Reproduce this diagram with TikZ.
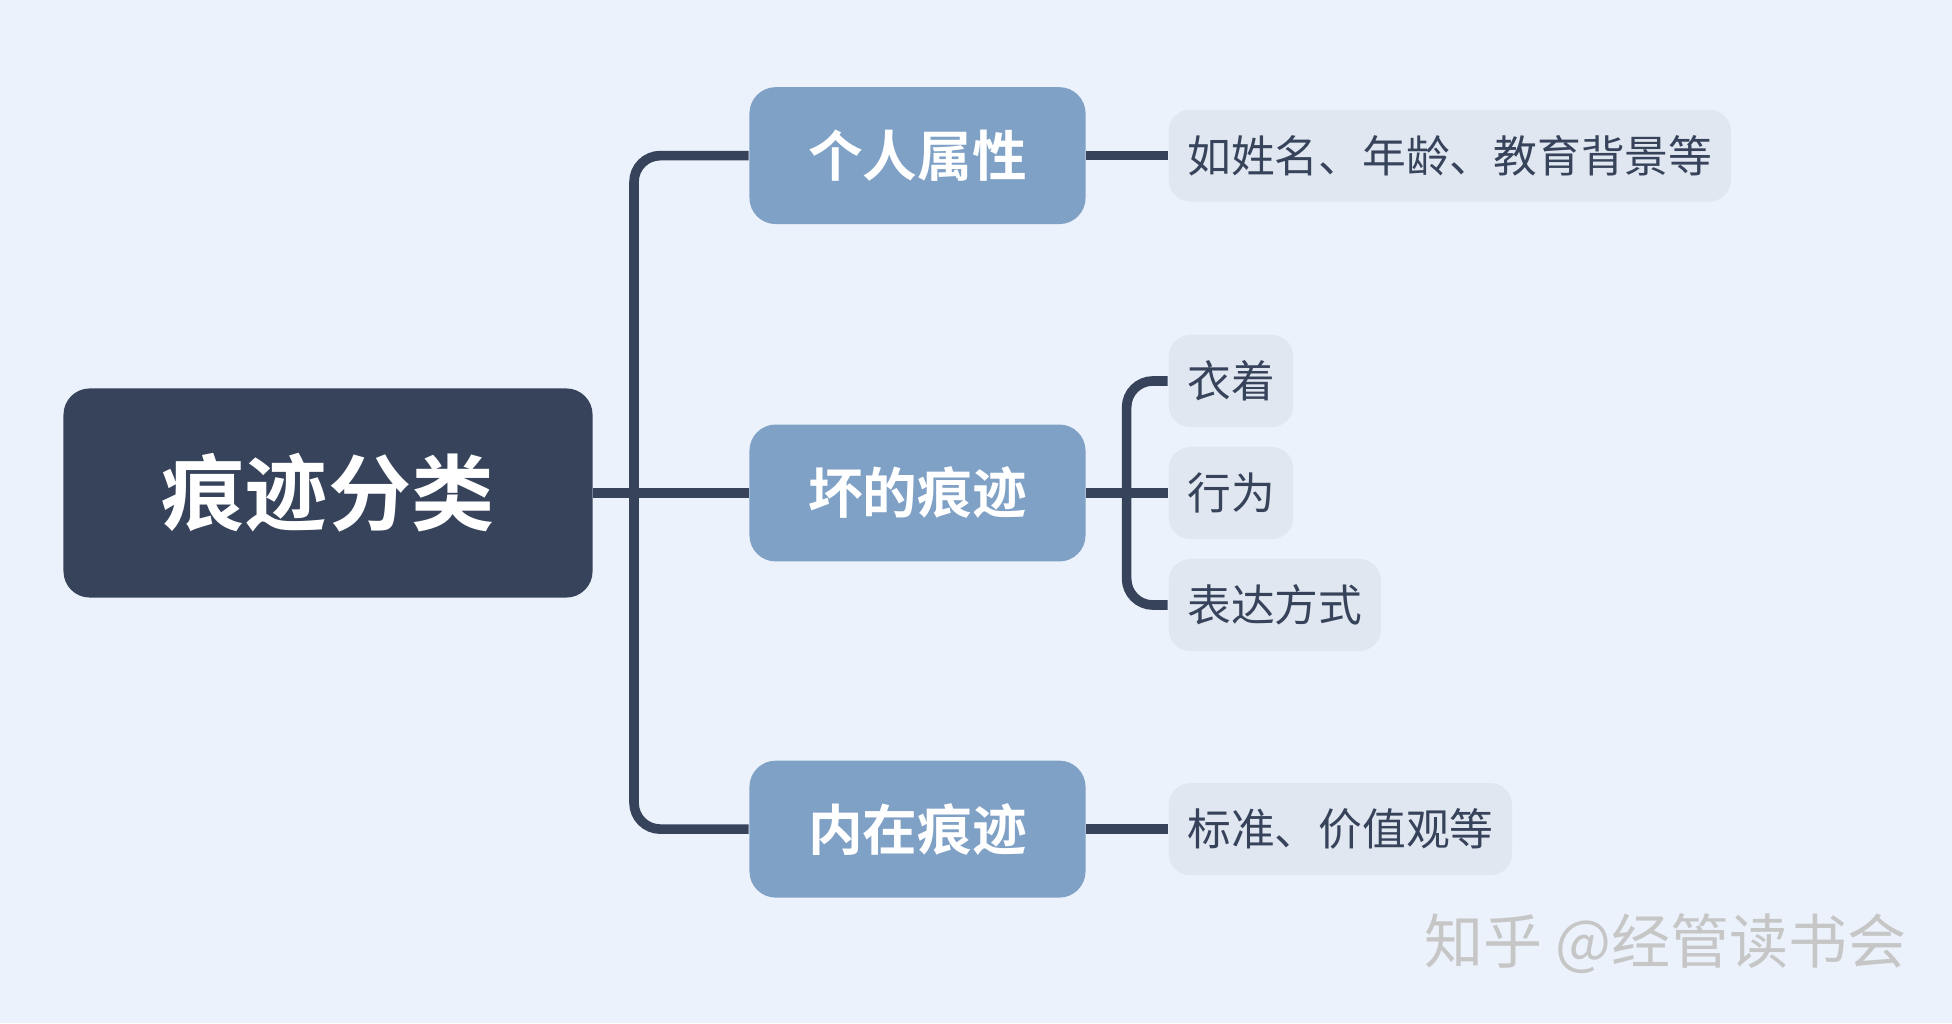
\documentclass[tikz,border=0pt]{standalone}
\usepackage{fontspec}
\newfontfamily\cjk{Noto Sans CJK SC}
\newfontfamily\cjkb{Noto Sans CJK SC Bold}
\usetikzlibrary{positioning}
\definecolor{bgcol}{HTML}{EBF2FB}
\definecolor{rootcol}{HTML}{36435A}
\definecolor{mainc}{HTML}{80A1C6}
\definecolor{leafc}{HTML}{E1E7F1}
\tikzset{
  root/.style={fill=rootcol, rounded corners=6pt, minimum width=4.25cm, minimum height=1.68cm, text=white, font=\cjkb\fontsize{19}{19}\selectfont},
  branch/.style={fill=mainc, rounded corners=6pt, minimum width=2.7cm, minimum height=1.1cm, text=white, font=\cjkb\fontsize{12.5}{12.5}\selectfont},
  leaf/.style={fill=leafc, rounded corners=5pt, minimum height=0.74cm, inner xsep=0.15cm, anchor=west, text=rootcol, font=\cjk\fontsize{10}{10}\selectfont},
  link/.style={draw=rootcol, line width=2.2pt, rounded corners=6pt}
}
\begin{document}
\begin{tikzpicture}
  \fill[bgcol] (0,0) rectangle (15.68,-8.22);
  \useasboundingbox (0,0) rectangle (15.68,-8.22);
  \node[root] (root) at (2.635,-3.96) {痕迹分类};
  \node[branch] (attr) at (7.37,-1.25) {个人属性};
  \node[branch] (bad) at (7.37,-3.96) {坏的痕迹};
  \node[branch] (inner) at (7.37,-6.66) {内在痕迹};
  \node[leaf] (info) at (9.38,-1.25) {如姓名、年龄、教育背景等};
  \node[leaf] (cloth) at (9.38,-3.06) {衣着};
  \node[leaf] (act) at (9.38,-3.96) {行为};
  \node[leaf] (expr) at (9.38,-4.86) {表达方式};
  \node[leaf] (value) at (9.38,-6.66) {标准、价值观等};
  % connectors
  \draw[link] (root.east) -- (bad.west);
  \draw[link] (attr.west) -- ([xshift=-0.92cm]attr.west) -- ([xshift=-0.92cm]inner.west) -- (inner.west);
  \draw[link] (bad.east) -- (act.west);
  \draw[link] (cloth.west) -- ([xshift=-0.33cm]cloth.west) -- ([xshift=-0.33cm]expr.west) -- (expr.west);
  \draw[link] (attr.east) -- (info.west);
  \draw[link] (inner.east) -- (value.west);
  % watermark
  \node[text=gray!45, font=\cjk\fontsize{13.5}{13.5}\selectfont] (mark) at (13.38,-7.58) {知乎 @经管读书会};
\end{tikzpicture}
\end{document}
